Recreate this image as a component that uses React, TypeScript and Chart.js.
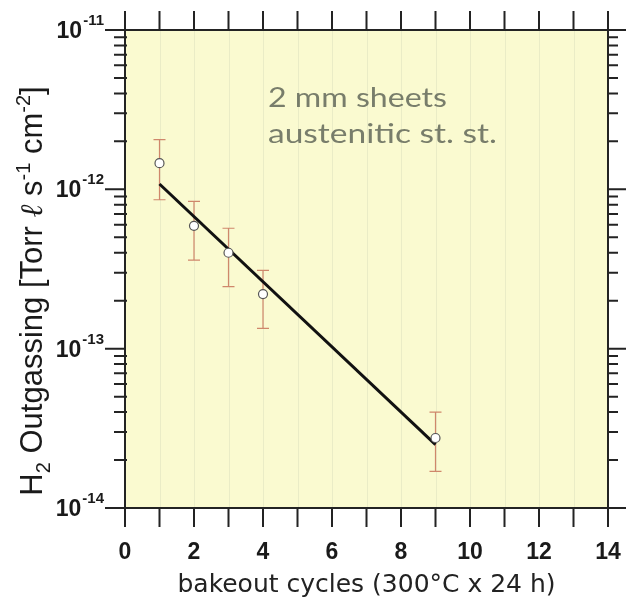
import React, { useEffect, useRef } from 'react';
import { Chart, registerables } from 'chart.js';

Chart.register(...registerables);

// Measured H2 outgassing rate after successive bakeout cycles
const cycles = [1, 2, 3, 4, 9];
const outgassing = [1.46e-12, 5.9e-13, 4.0e-13, 2.2e-13, 2.75e-14];
const outgassingLow = [8.6e-13, 3.6e-13, 2.45e-13, 1.34e-13, 1.7e-14];
const outgassingHigh = [2.05e-12, 8.4e-13, 5.7e-13, 3.1e-13, 4.0e-14];

// Exponential fit through the measurements
const fitCycles = [1, 9];
const fitOutgassing = [1.08e-12, 2.5e-14];

const xTickValues = [0, 2, 4, 6, 8, 10, 12, 14];
const decadeExponents = [-14, -13, -12, -11];
const noteLines = ['2 mm sheets', 'austenitic st. st.'];
const xTitle = 'bakeout cycles (300°C x 24 h)';

type TitlePart = { text: string; kind: 'base' | 'sub' | 'sup' | 'script' };
const yTitleParts: TitlePart[] = [
  { text: 'H', kind: 'base' },
  { text: '2', kind: 'sub' },
  { text: ' Outgassing [Torr ', kind: 'base' },
  { text: 'ℓ', kind: 'script' },
  { text: ' s', kind: 'base' },
  { text: '-1', kind: 'sup' },
  { text: ' cm', kind: 'base' },
  { text: '-2', kind: 'sup' },
  { text: ']', kind: 'base' },
];

const INK = '#232323';
const PAPER = '#FAFAD0';
const ERROR_COLOR = '#CF876B';

const fontFor = (kind: TitlePart['kind']) => {
  switch (kind) {
    case 'sub':
    case 'sup':
      return '20px "Liberation Sans", Arial, sans-serif';
    case 'script':
      return 'italic 31px "DejaVu Serif", serif';
    default:
      return '31px "Liberation Sans", Arial, sans-serif';
  }
};

const framePlugin = {
  id: 'logFrame',
  beforeDraw(chart: any) {
    const { ctx, chartArea: a, scales } = chart;
    ctx.save();
    ctx.fillStyle = PAPER;
    ctx.fillRect(a.left, a.top, a.right - a.left, a.bottom - a.top);
    // faint ruling of the paper
    ctx.strokeStyle = 'rgba(170,180,160,0.2)';
    ctx.lineWidth = 1;
    for (let v = 1; v < 14; v++) {
      const px = Math.round(scales.x.getPixelForValue(v)) + 0.5;
      ctx.beginPath();
      ctx.moveTo(px, a.top);
      ctx.lineTo(px, a.bottom);
      ctx.stroke();
    }
    ctx.restore();
  },
  beforeDatasetsDraw(chart: any) {
    const { ctx, chartArea: a, scales } = chart;
    ctx.save();
    // handwritten note
    ctx.fillStyle = 'rgba(92,98,84,0.82)';
    ctx.font = '27px Lato, "DejaVu Sans", sans-serif';
    ctx.textBaseline = 'alphabetic';
    const noteWidths = [179, 229];
    const noteBase = [a.top + 77, a.top + 113];
    noteLines.forEach((line, i) => {
      const w = ctx.measureText(line).width;
      ctx.save();
      ctx.translate(a.left + 143, noteBase[i]);
      ctx.scale(noteWidths[i] / w, 1);
      ctx.fillText(line, 0, 0);
      ctx.restore();
    });

    // error bars
    ctx.strokeStyle = ERROR_COLOR;
    ctx.lineWidth = 1.2;
    cycles.forEach((c, i) => {
      const px = scales.x.getPixelForValue(c);
      const top = scales.y.getPixelForValue(outgassingHigh[i]);
      const bot = scales.y.getPixelForValue(outgassingLow[i]);
      ctx.beginPath();
      ctx.moveTo(px, top);
      ctx.lineTo(px, bot);
      ctx.moveTo(px - 6, top);
      ctx.lineTo(px + 6, top);
      ctx.moveTo(px - 6, bot);
      ctx.lineTo(px + 6, bot);
      ctx.stroke();
    });
    ctx.restore();
  },
  afterDraw(chart: any) {
    const { ctx, chartArea: a, scales } = chart;
    const { x, y } = scales;
    ctx.save();
    ctx.strokeStyle = INK;
    ctx.lineWidth = 2;
    ctx.lineCap = 'butt';

    // frame
    ctx.beginPath();
    ctx.moveTo(a.left, a.top);
    ctx.lineTo(a.right + 18, a.top);
    ctx.moveTo(a.left, a.bottom);
    ctx.lineTo(a.right + 18, a.bottom);
    ctx.moveTo(a.left, a.top - 19);
    ctx.lineTo(a.left, a.bottom + 19);
    ctx.moveTo(a.right, a.top - 19);
    ctx.lineTo(a.right, a.bottom + 19);
    ctx.stroke();

    // x ticks on top and bottom, every cycle
    ctx.beginPath();
    for (let v = 1; v < 14; v++) {
      const px = x.getPixelForValue(v);
      ctx.moveTo(px, a.top - 19);
      ctx.lineTo(px, a.top);
      ctx.moveTo(px, a.bottom);
      ctx.lineTo(px, a.bottom + 19);
    }
    ctx.stroke();

    // log ticks on left and right
    ctx.beginPath();
    decadeExponents.forEach((e) => {
      const py = y.getPixelForValue(Math.pow(10, e));
      ctx.moveTo(a.left - 20, py);
      ctx.lineTo(a.left, py);
      ctx.moveTo(a.right, py);
      ctx.lineTo(a.right + 18, py);
      if (e === -11) return;
      for (let m = 2; m <= 9; m++) {
        const my = y.getPixelForValue(m * Math.pow(10, e));
        ctx.moveTo(a.left - 11, my);
        ctx.lineTo(a.left + 2, my);
        ctx.moveTo(a.right, my);
        ctx.lineTo(a.right + 10, my);
      }
    });
    ctx.stroke();

    // decade labels 10^e
    ctx.fillStyle = '#1a1a1a';
    ctx.textAlign = 'right';
    ctx.textBaseline = 'alphabetic';
    decadeExponents.forEach((e) => {
      const py = y.getPixelForValue(Math.pow(10, e));
      const expText = String(e);
      ctx.font = 'bold 15px "Liberation Sans", Arial, sans-serif';
      const expW = ctx.measureText(expText).width;
      const expRight = a.left - 21;
      ctx.fillText(expText, expRight, py - 5);
      ctx.font = 'bold 23px "Liberation Sans", Arial, sans-serif';
      ctx.fillText('10', expRight - expW - 1, py + 8);
    });

    // rotated y title with sub/superscripts
    let total = 0;
    const widths = yTitleParts.map((p) => {
      ctx.font = fontFor(p.kind);
      const w = ctx.measureText(p.text).width;
      total += w;
      return w;
    });
    ctx.save();
    ctx.translate(42, 291);
    ctx.rotate(-Math.PI / 2);
    ctx.textAlign = 'left';
    let cx = -total / 2;
    yTitleParts.forEach((p, i) => {
      ctx.font = fontFor(p.kind);
      const shift = p.kind === 'sub' ? 8 : p.kind === 'sup' ? -12 : 0;
      ctx.fillText(p.text, cx, shift);
      cx += widths[i];
    });
    ctx.restore();

    ctx.restore();
  },
};

export default function App() {
  const canvasRef = useRef<HTMLCanvasElement | null>(null);

  useEffect(() => {
    if (!canvasRef.current) return;
    const chart = new Chart(canvasRef.current, {
      type: 'scatter',
      data: {
        datasets: [
          {
            label: 'fit',
            data: fitCycles.map((c, i) => ({ x: c, y: fitOutgassing[i] })),
            showLine: true,
            borderColor: '#111111',
            borderWidth: 3,
            pointRadius: 0,
            order: 2,
          },
          {
            label: 'H2 outgassing',
            data: cycles.map((c, i) => ({ x: c, y: outgassing[i] })),
            showLine: false,
            pointRadius: 4.5,
            pointBackgroundColor: '#ffffff',
            pointBorderColor: '#555555',
            pointBorderWidth: 1.2,
            order: 1,
          },
        ],
      },
      options: {
        responsive: false,
        animation: false,
        layout: { padding: { top: 30, right: 19, left: 0, bottom: 0 } },
        plugins: { legend: { display: false }, tooltip: { enabled: false } },
        scales: {
          x: {
            type: 'linear',
            min: 0,
            max: 14,
            grid: { display: false },
            border: { display: false },
            afterBuildTicks: (scale: any) => {
              scale.ticks = xTickValues.map((v) => ({ value: v }));
            },
            ticks: {
              color: '#1a1a1a',
              padding: 23,
              font: { family: '"Liberation Sans", Arial, sans-serif', size: 23, weight: 'bold' },
            },
            title: {
              display: true,
              text: xTitle,
              color: '#222222',
              padding: { top: 0, bottom: 5 },
              font: { family: '"DejaVu Sans", Verdana, sans-serif', size: 25, weight: 'normal' },
            },
            afterFit: (scale: any) => {
              scale.height = 97;
              scale.paddingLeft = 0;
              scale.paddingRight = 0;
            },
          },
          y: {
            type: 'logarithmic',
            min: 1e-14,
            max: 1e-11,
            grid: { display: false },
            border: { display: false },
            ticks: { display: false },
            afterFit: (scale: any) => {
              scale.width = 125;
              scale.paddingTop = 0;
              scale.paddingBottom = 0;
            },
          },
        },
      },
      plugins: [framePlugin],
    } as any);
    return () => chart.destroy();
  }, []);

  return (
    <div style={{ position: 'fixed', left: 0, top: 0, width: 627, height: 605, background: '#ffffff' }}>
      <canvas ref={canvasRef} width={627} height={605} style={{ display: 'block' }} />
    </div>
  );
}
